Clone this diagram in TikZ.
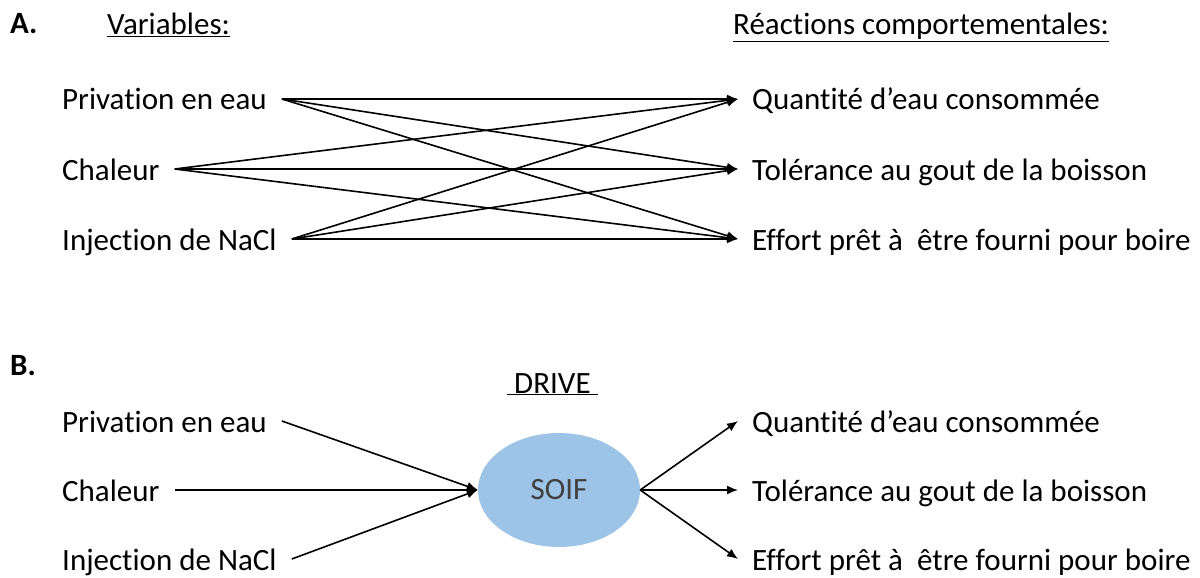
\documentclass[tikz,border=0pt]{standalone}
\usepackage{fontspec}
\setmainfont{Carlito}[Ligatures=NoCommon]
\usetikzlibrary{arrows.meta,shapes.geometric}
\definecolor{soifblue}{RGB}{157,195,230}
\definecolor{soifgray}{RGB}{64,64,64}
\begin{document}
\begin{tikzpicture}[x=1pt,y=-1pt,
    every node/.style={font=\fontsize{31}{37}\selectfont},
    title/.style={anchor=base west,inner sep=0pt},
    cause/.style={anchor=west,inner ysep=0pt,inner xsep=15pt,text height=22pt,text depth=0pt},
    effect/.style={anchor=west,inner ysep=0pt,inner xsep=14pt,text height=22pt,text depth=0pt},
    drive/.style={ellipse,fill=soifblue,minimum width=162pt,minimum height=114pt,inner sep=0pt,text=soifgray}]
  \useasboundingbox (0,0) rectangle (1200,578);
  \draw
    (10,34) node[title] (ta){\textbf{A.}}
    (107,35) node[title] (tvar){\underline{Variables:}}
    (733,35) node[title] (treac){\underline{Réactions comportementales:}}
    (47,99) node[cause] (a1){Privation en eau}
    (47,169) node[cause] (a2){Chaleur}
    (47,239) node[cause] (a3){Injection de NaCl}
    (738,99) node[effect] (r1){Quantité d’eau consommée}
    (738,169) node[effect] (r2){Tolérance au gout de la boisson}
    (738,239) node[effect] (r3){Effort prêt à \ être fourni pour boire}
    (10,375) node[title] (tb){\textbf{B.}}
    (507,393) node[title] (tdrive){\underline{\ DRIVE\ }}
    (47,421) node[cause] (b1){Privation en eau}
    (47,490) node[cause] (b2){Chaleur}
    (47,559) node[cause] (b3){Injection de NaCl}
    (559,490) node[drive] (soif){SOIF}
    (738,421) node[effect] (s1){Quantité d’eau consommée}
    (738,490) node[effect] (s2){Tolérance au gout de la boisson}
    (738,559) node[effect] (s3){Effort prêt à \ être fourni pour boire};
  \begin{scope}[-{Latex[length=11pt,width=9pt]},line width=1.6pt]
    \draw (a1.east) to (r1.west);
    \draw (a1.east) to (r2.west);
    \draw (a1.east) to (r3.west);
    \draw (a2.east) to (r1.west);
    \draw (a2.east) to (r2.west);
    \draw (a2.east) to (r3.west);
    \draw (a3.east) to (r1.west);
    \draw (a3.east) to (r2.west);
    \draw (a3.east) to (r3.west);
    \draw (b1.east) to (soif.west);
    \draw (b2.east) to (soif.west);
    \draw (b3.east) to (soif.west);
    \draw (soif.east) to (s1.west);
    \draw (soif.east) to (s2.west);
    \draw (soif.east) to (s3.west);
  \end{scope}
\end{tikzpicture}
\end{document}
